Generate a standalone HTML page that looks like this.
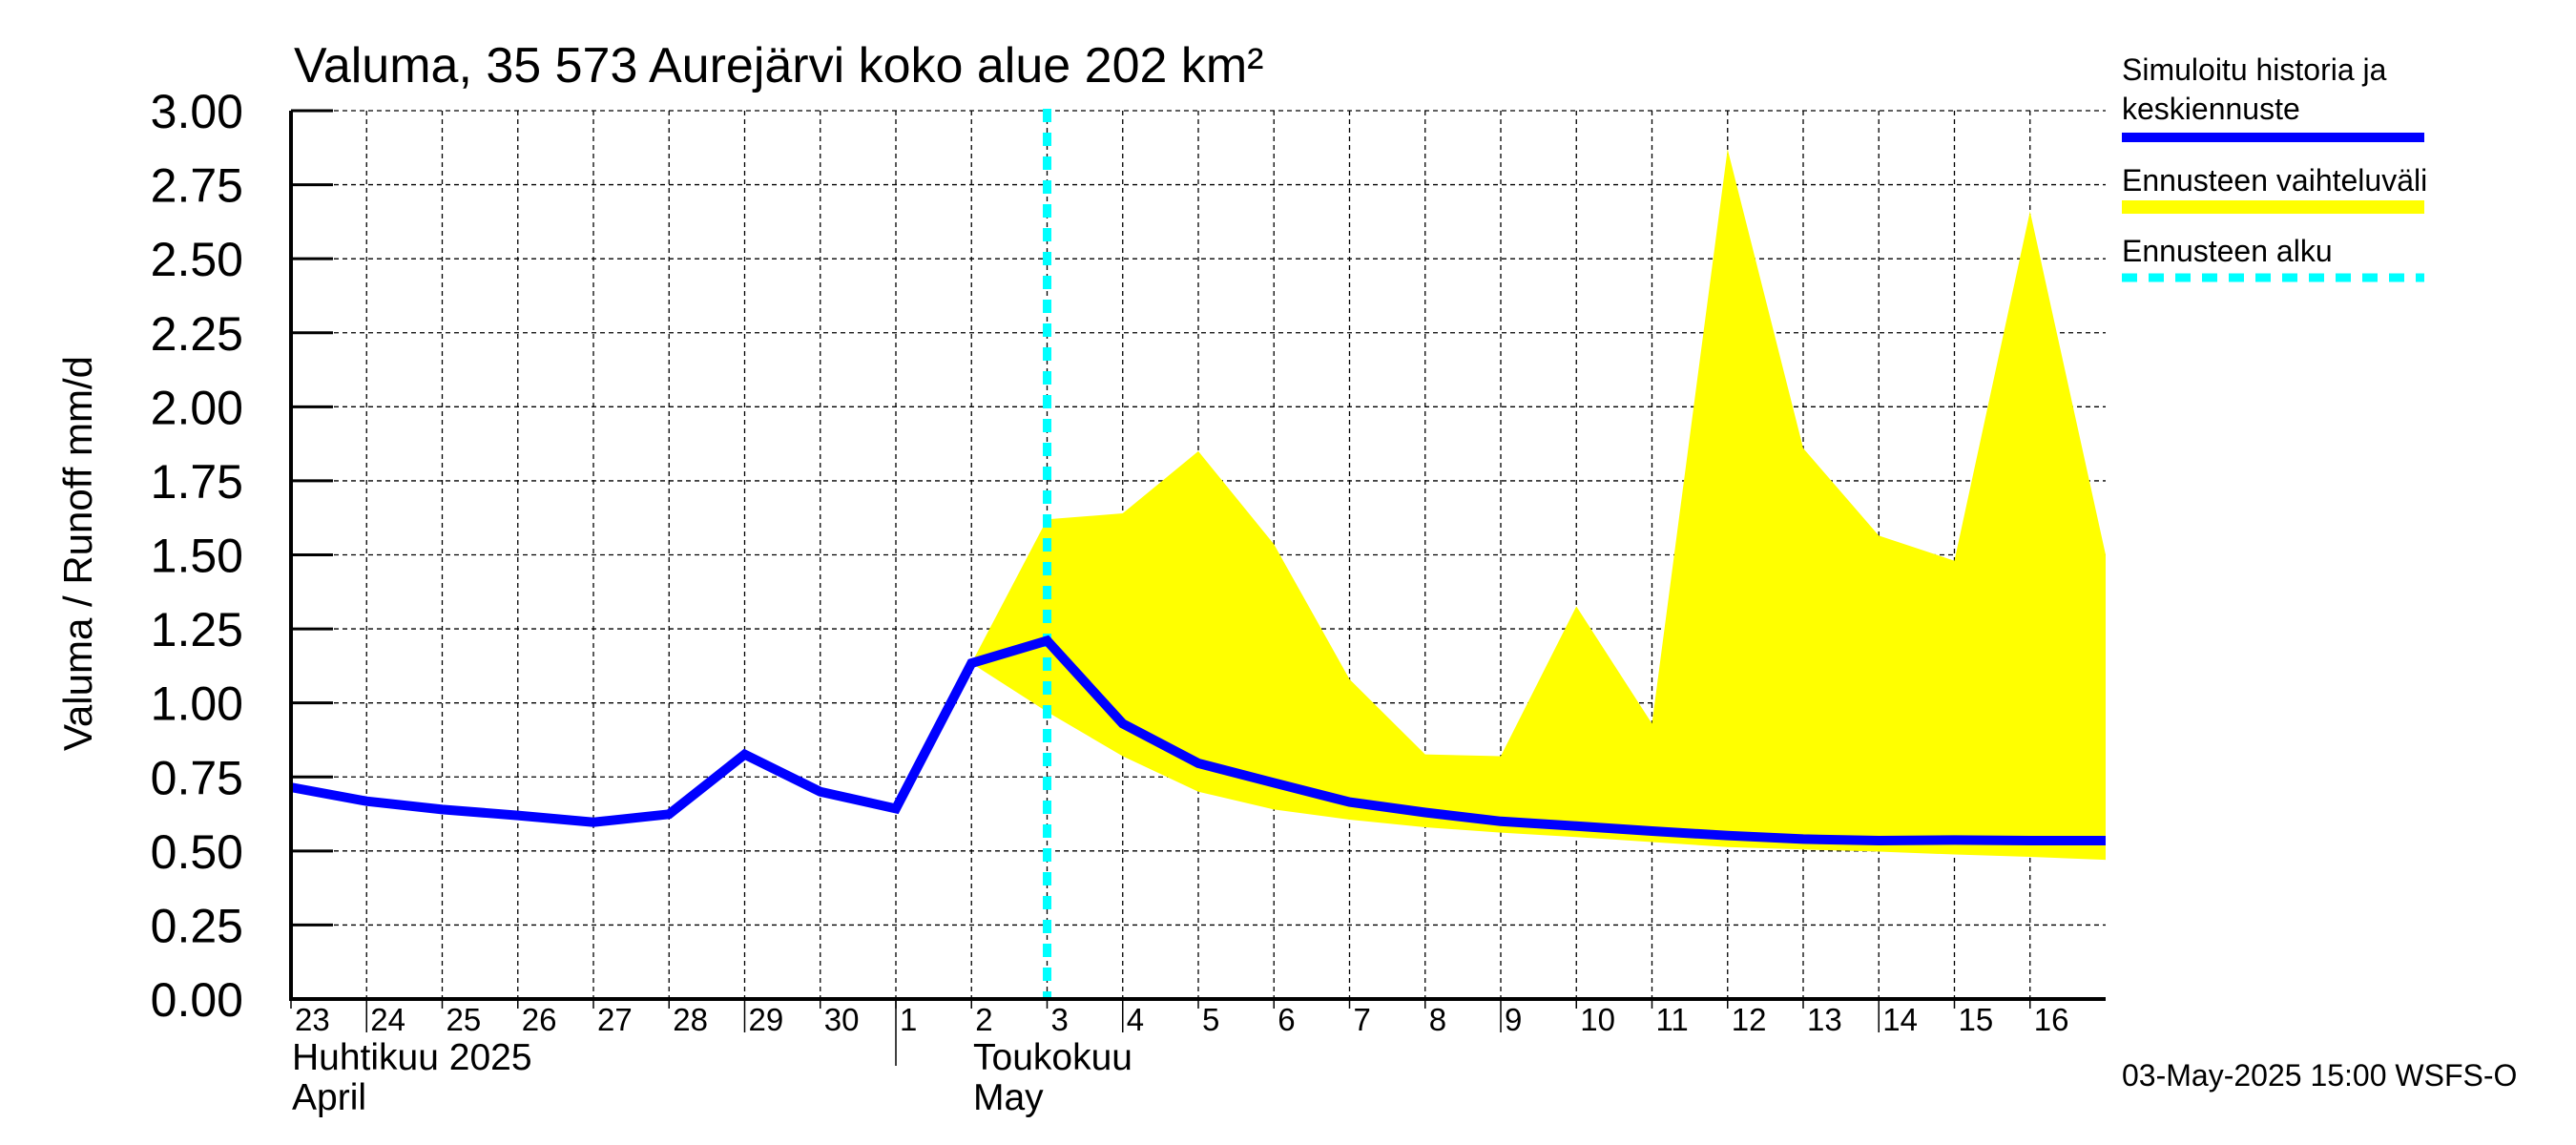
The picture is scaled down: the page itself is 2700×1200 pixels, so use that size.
<!DOCTYPE html>
<html><head><meta charset="utf-8"><style>
html,body{margin:0;padding:0;background:#fff;}
svg{display:block;font-family:"Liberation Sans",sans-serif;}
</style></head><body>
<svg id="chart" width="2700" height="1200" viewBox="0 0 2700 1200" xmlns="http://www.w3.org/2000/svg">
<rect width="2700" height="1200" fill="#fff"/>
<text x="308" y="86" font-size="52">Valuma, 35 573 Aurejärvi koko alue 202 km²</text>
<text transform="translate(96,580) rotate(-90)" text-anchor="middle" font-size="42">Valuma / Runoff     mm/d</text>
<g id="grid"></g>
<g id="band"></g>
<g id="series"></g>
<g id="axes"></g>
<g>
<text x="2224" y="84" font-size="32">Simuloitu historia ja</text>
<text x="2224" y="125" font-size="32">keskiennuste</text>
<line x1="2224" y1="144" x2="2541" y2="144" stroke="#0000ff" stroke-width="10"/>
<text x="2224" y="200" font-size="32">Ennusteen vaihteluväli</text>
<line x1="2224" y1="217" x2="2541" y2="217" stroke="#ffff00" stroke-width="14"/>
<text x="2224" y="274" font-size="32">Ennusteen alku</text>
<line x1="2224" y1="291" x2="2541" y2="291" stroke="#00ffff" stroke-width="9" stroke-dasharray="16,12"/>
</g>
<text x="2224" y="1138" font-size="32">03-May-2025 15:00 WSFS-O</text>
<text x="306" y="1121" font-size="39">Huhtikuu  2025</text>
<text x="306" y="1163" font-size="39">April</text>
<text x="1020" y="1121" font-size="39">Toukokuu</text>
<text x="1020" y="1163" font-size="39">May</text>
</svg>
<script>
const dayLabels = ["23","24","25","26","27","28","29","30","1","2","3","4","5","6","7","8","9","10","11","12","13","14","15","16"];
const yTicks = [0,0.25,0.5,0.75,1,1.25,1.5,1.75,2,2.25,2.5,2.75,3];
const simulated = [0.715,0.668,0.64,0.62,0.597,0.624,0.826,0.70,0.643,1.134,1.21,0.93,0.796,0.73,0.665,0.63,0.60,0.584,0.567,0.552,0.54,0.535,0.537,0.535,0.535];
const rangeStart = 9;
const rangeUpper = [1.134,1.62,1.64,1.85,1.536,1.08,0.826,0.82,1.326,0.93,2.87,1.86,1.565,1.48,2.66,1.50];
const rangeLower = [1.134,0.97,0.82,0.70,0.64,0.606,0.58,0.562,0.547,0.53,0.513,0.505,0.498,0.488,0.48,0.47];
const forecastStart = 10;

const L=305,R=2207,T=116,B=1047,NX=24,YMAX=3;
const xs=i=>L+(R-L)*i/NX;
const ys=v=>B-(B-T)*v/YMAX;
const NS="http://www.w3.org/2000/svg";
function mk(tag,parent,attrs){const e=document.createElementNS(NS,tag);for(const k in attrs)e.setAttribute(k,attrs[k]);parent.appendChild(e);return e;}
const grid=document.getElementById('grid'),axes=document.getElementById('axes'),band=document.getElementById('band'),series=document.getElementById('series');

yTicks.forEach(v=>{
  const g=mk('line',grid,{x1:L,x2:R,y1:ys(v),y2:ys(v),stroke:'#000','stroke-width':1.3,'stroke-dasharray':'5,4'});
  
  
  const t=mk('line',axes,{x1:L,x2:L+44,y1:ys(v),y2:ys(v),stroke:'#000','stroke-width':3});
  
  
  const lb=mk('text',axes,{x:255,y:ys(v)+18,'text-anchor':'end','font-size':50});
  lb.textContent=v.toFixed(2);
  
  
});
dayLabels.forEach((d,i)=>{
  const x=xs(i);
  if(i>0){const g=mk('line',grid,{x1:x,x2:x,y1:T,y2:B,stroke:'#000','stroke-width':1.3,'stroke-dasharray':'5,4'});
  
  }
  const long=(i%5===1);
  const t=mk('line',axes,{x1:x,x2:x,y1:B,y2:long?1082:1057,stroke:'#000','stroke-width':1.5});
  
  
  const lb=mk('text',axes,{x:x+4,y:1080,'font-size':33});
  lb.textContent=d;
  
  
});
const sep=mk('line',axes,{x1:xs(8),x2:xs(8),y1:B,y2:1117,stroke:'#000','stroke-width':1.5});



let pts=[];
rangeUpper.forEach((v,i)=>pts.push(xs(rangeStart+i)+','+ys(v)));
for(let i=rangeLower.length-1;i>=0;i--)pts.push(xs(rangeStart+i)+','+ys(rangeLower[i]));
const poly=mk('polygon',band,{points:pts.join(' '),fill:'#ffff00'});



const fl=mk('line',series,{x1:xs(forecastStart),x2:xs(forecastStart),y1:T-2,y2:B,stroke:'#00ffff','stroke-width':9,'stroke-dasharray':'14,11'});



const sl=mk('polyline',series,{points:simulated.map((v,i)=>xs(i)+','+ys(v)).join(' '),fill:'none',stroke:'#0000ff','stroke-width':10,'stroke-linejoin':'miter'});



const fr=mk('path',axes,{d:`M${L},${T} L${L},${B} L${R},${B}`,fill:'none',stroke:'#000','stroke-width':4});


</script>
</body></html>
